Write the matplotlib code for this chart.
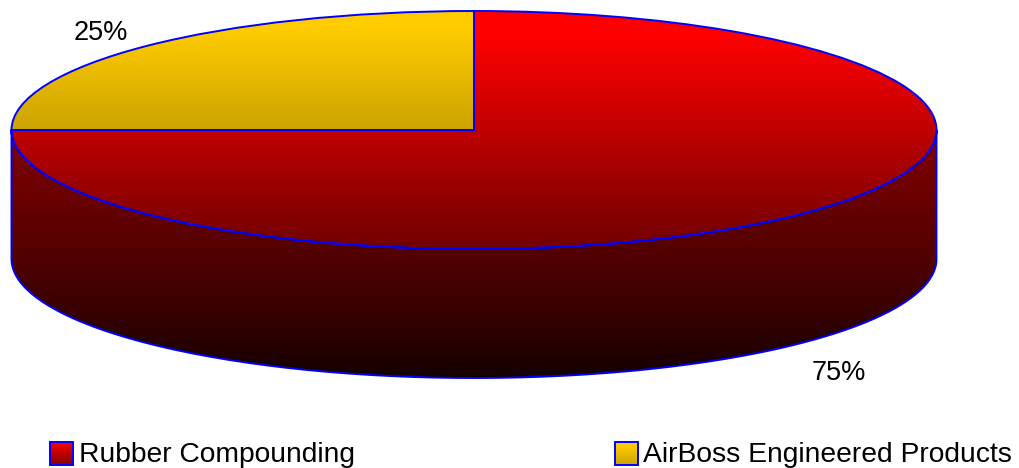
import numpy as np
import matplotlib
matplotlib.use("Agg")
import matplotlib.pyplot as plt
from matplotlib.colors import LinearSegmentedColormap
from matplotlib.patches import PathPatch, Rectangle
from matplotlib.path import Path

labels = ["Rubber Compounding", "AirBoss Engineered Products"]
shares = [75, 25]

W, H = 1019, 468
CX, CY, RX, RY = 474, 130, 462.5, 119
DEPTH = 129
BLUE = "#0000ff"

# colour stops: (fraction of the height, colour)
RED_TOP = [(0, "#ff0000"), (0.10, "#ff0000"), (0.5, "#c00000"), (1, "#700000")]
RED_SIDE = [(0, "#800000"), (0.20, "#700000"), (0.48, "#550000"), (0.80, "#2f0000"), (1, "#150000")]
GOLD_TOP = [(0, "#ffcc00"), (0.15, "#ffcc00"), (1, "#cca300")]
RED_KEY = [(0, "#ff0000"), (1, "#800000")]

plt.rcParams['font.family'] = ['Liberation Sans', 'DejaVu Sans']

fig = plt.figure(figsize=(W / 100, H / 100), dpi=100)

# pixel axes, y down, for gradients and text
ax = fig.add_axes([0, 0, 1, 1])
ax.set_xlim(0, W)
ax.set_ylim(H, 0)
ax.axis("off")

# pie axes: one data unit is RX across and RY down, so the circle becomes the ellipse
pie_ax = fig.add_axes([0, 0, 1, 1], zorder=2)
pie_ax.patch.set_alpha(0)
wedges, _ = pie_ax.pie(shares, startangle=90, counterclock=False, radius=1,
                       wedgeprops=dict(facecolor="none", edgecolor=BLUE, linewidth=1.4))
pie_ax.set_aspect("auto")
pie_ax.set_xlim(-CX / RX, (W - CX) / RX)
pie_ax.set_ylim((CY - H) / RY, CY / RY)
pie_ax.axis("off")


def gradient(x0, x1, y0, y1, stops, clip=None, z=1):
    g = np.linspace(0, 1, 256).reshape(-1, 1)
    cm = LinearSegmentedColormap.from_list("g", stops)
    im = ax.imshow(g, cmap=cm, extent=(x0, x1, y1, y0), aspect="auto",
                   interpolation="bilinear", zorder=z, vmin=0, vmax=1)
    if clip is not None:
        im.set_clip_path(clip)
    return im


# side wall below the top face
t = np.linspace(np.pi, 2 * np.pi, 200)
xs = CX + RX * np.cos(t)
ys = CY - RY * np.sin(t)
side_xy = np.vstack([np.column_stack([xs, ys]),
                     np.column_stack([xs[::-1], ys[::-1] + DEPTH]),
                     [[xs[0], ys[0]]]])
side = PathPatch(Path(side_xy), facecolor="none", edgecolor=BLUE, linewidth=1.4, zorder=3)
ax.add_patch(side)
gradient(CX - RX, CX + RX, CY, CY + RY + DEPTH, RED_SIDE, clip=side, z=1)

# top face
gradient(CX - RX, CX + RX, CY - RY, CY + RY, RED_TOP, clip=wedges[0], z=2)
gradient(CX - RX, CX, CY - RY, CY, GOLD_TOP, clip=wedges[1], z=2)

# percentage labels
ax.text(101, 39.5, f"{shares[1]}%", fontsize=19.5, ha="center", va="baseline", color="black", zorder=5)
ax.text(839, 379.5, f"{shares[0]}%", fontsize=19.5, ha="center", va="baseline", color="black", zorder=5)

# legend
legend_x = [50, 615]
text_x = [79, 643]
swatches = [RED_KEY, GOLD_TOP]
for lx, tx, name, stops in zip(legend_x, text_x, labels, swatches):
    gradient(lx, lx + 23, 442, 465, stops, z=2)
    ax.add_patch(Rectangle((lx, 442), 23, 23, facecolor="none", edgecolor=BLUE, linewidth=1.4, zorder=3))
    ax.text(tx, 462, name, fontsize=20.3, ha="left", va="baseline", color="black", zorder=5)

ax.set_xlim(0, W)
ax.set_ylim(H, 0)
fig.savefig("out.png", dpi=100, facecolor="white")
